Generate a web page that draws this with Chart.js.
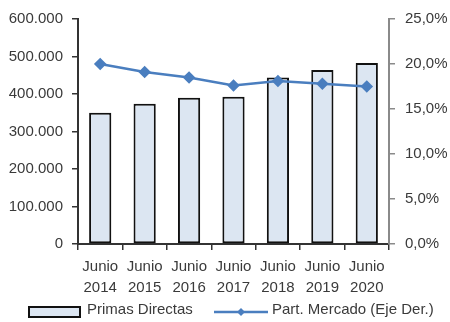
<!DOCTYPE html>
<html>
<head>
<meta charset="utf-8">
<script src="https://cdn.jsdelivr.net/npm/chart.js@4.4.1/dist/chart.umd.min.js"></script>
<style>
  html, body { margin: 0; padding: 0; background: #fff; }
  canvas { display: block; }
</style>
</head>
<body>
<canvas id="grafico" width="450" height="322"></canvas>
<script>
// datos del grafico
var periodos = [['Junio', '2014'], ['Junio', '2015'], ['Junio', '2016'], ['Junio', '2017'],
                ['Junio', '2018'], ['Junio', '2019'], ['Junio', '2020']];
var primas = [350000, 374000, 390000, 393000, 444000, 464000, 483000];
var partMercado = [20.0, 19.1, 18.5, 17.6, 18.1, 17.8, 17.5];
var nombres = ['Primas Directas', 'Part. Mercado (Eje Der.)'];

var fuente = "'Liberation Sans', Arial, sans-serif";
var tam = 15;
var colorTexto = '#3a3a3a';
var azul = '#4a7ebf';
var relleno = '#dce6f2';

function miles(v) {
  return String(v).replace(/\B(?=(\d{3})+(?!\d))/g, '.');
}

// leyenda dibujada a mano debajo del eje
var leyenda = {
  id: 'leyenda',
  afterDraw: function(chart) {
    var ctx = chart.ctx;
    ctx.save();
    ctx.fillStyle = relleno;
    ctx.fillRect(29, 307, 51, 10);
    ctx.strokeStyle = '#111';
    ctx.lineWidth = 2;
    ctx.strokeRect(29, 307, 51, 10);

    ctx.strokeStyle = azul;
    ctx.lineWidth = 2.5;
    ctx.beginPath();
    ctx.moveTo(214, 312);
    ctx.lineTo(268, 312);
    ctx.stroke();
    ctx.fillStyle = azul;
    ctx.beginPath();
    ctx.moveTo(241, 308);
    ctx.lineTo(245, 312);
    ctx.lineTo(241, 316);
    ctx.lineTo(237, 312);
    ctx.closePath();
    ctx.fill();

    ctx.fillStyle = colorTexto;
    ctx.font = tam + 'px ' + fuente;
    ctx.textBaseline = 'middle';
    ctx.fillText(nombres[0], 87, 310);
    ctx.fillText(nombres[1], 272, 310);
    ctx.restore();
  }
};

new Chart(document.getElementById('grafico'), {
  type: 'bar',
  data: {
    labels: periodos,
    datasets: [{
      type: 'line',
      label: nombres[1],
      data: partMercado,
      yAxisID: 'der',
      borderColor: azul,
      backgroundColor: azul,
      borderWidth: 2.5,
      pointStyle: 'rectRot',
      pointRadius: 4.5,
      pointHoverRadius: 4.5,
      tension: 0,
      order: 0
    }, {
      label: nombres[0],
      data: primas,
      yAxisID: 'izq',
      backgroundColor: relleno,
      borderColor: '#111',
      borderWidth: 2,
      borderSkipped: false,
      barPercentage: 0.5,
      categoryPercentage: 1,
      order: 1
    }]
  },
  options: {
    responsive: false,
    animation: false,
    layout: { padding: { top: 14, left: 0, right: 0, bottom: 0 } },
    plugins: {
      legend: { display: false },
      tooltip: { enabled: false }
    },
    scales: {
      x: {
        grid: { display: true, drawOnChartArea: false, tickLength: 6, color: '#333', lineWidth: 1.5 },
        border: { display: true, color: '#333', width: 2 },
        ticks: { color: colorTexto, font: { family: fuente, size: tam, lineHeight: 1.35 }, padding: 7, maxRotation: 0, autoSkip: false },
        afterFit: function(s) { s.height = 78; }
      },
      izq: {
        position: 'left',
        min: 0,
        max: 600000,
        grid: { display: true, drawOnChartArea: false, tickLength: 6, color: '#333', lineWidth: 1.5 },
        border: { display: true, color: '#333', width: 2 },
        ticks: {
          stepSize: 100000,
          color: colorTexto,
          font: { family: fuente, size: tam },
          padding: 9,
          callback: function(v) { return miles(v); }
        },
        afterFit: function(s) { s.width = 78; }
      },
      der: {
        position: 'right',
        min: 0,
        max: 25,
        grid: { display: true, drawOnChartArea: false, tickLength: 6, color: '#8a8a8a', lineWidth: 1.5 },
        border: { display: true, color: '#8a8a8a', width: 2 },
        ticks: {
          stepSize: 5,
          color: colorTexto,
          font: { family: fuente, size: tam },
          padding: 10,
          callback: function(v) { return v.toFixed(1).replace('.', ',') + '%'; }
        },
        afterFit: function(s) { s.width = 61; }
      }
    }
  },
  plugins: [leyenda]
});
</script>
</body>
</html>
